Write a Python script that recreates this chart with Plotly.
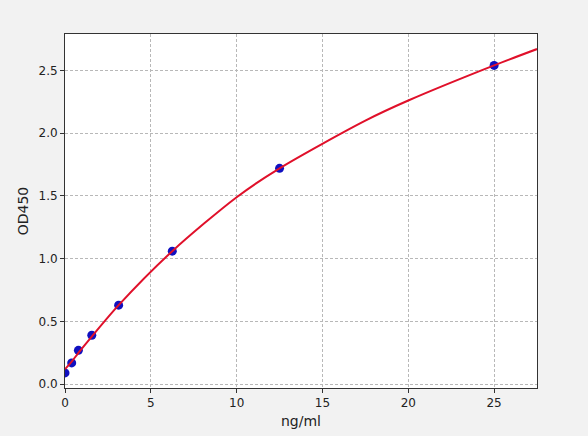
import plotly.graph_objects as go

# Standard points (concentration, OD450)
conc = [0, 0.39, 0.78, 1.56, 3.125, 6.25, 12.5, 25]
od450 = [0.09, 0.17, 0.27, 0.39, 0.63, 1.06, 1.72, 2.54]

# Fitted curve
curve_x = [0, 0.39, 0.78, 1.56, 3.125, 6.25, 10, 12.5, 17.5, 20, 25, 27.5]
curve_y = [0.12, 0.18, 0.25, 0.38, 0.63, 1.06, 1.49, 1.72, 2.10, 2.26, 2.54, 2.67]

x_ticks = [0, 5, 10, 15, 20, 25]
y_ticks = [0.0, 0.5, 1.0, 1.5, 2.0, 2.5]

fig = go.Figure()

fig.add_trace(go.Scatter(
    x=conc, y=od450, mode='markers',
    marker=dict(color='#1010c0', size=9),
    showlegend=False,
))

fig.add_trace(go.Scatter(
    x=curve_x, y=curve_y, mode='lines',
    line=dict(color='#e0102a', width=2, shape='spline', smoothing=0.8),
    showlegend=False,
))

axis_style = dict(
    showline=True, linecolor='#333333', linewidth=1, mirror=True,
    ticks='outside', ticklen=4, tickcolor='#333333',
    showgrid=True, gridcolor='#b8b8b8', griddash='3px,2px', gridwidth=1,
    zeroline=False, automargin=False,
    tickfont=dict(family='DejaVu Sans', size=12, color='#222222'),
)

fig.update_layout(
    width=588, height=436,
    margin=dict(l=65, r=51, t=34, b=48),
    paper_bgcolor='#f2f2f2',
    plot_bgcolor='white',
    font=dict(family='DejaVu Sans', size=12, color='#222222'),
    xaxis=dict(
        range=[0, 27.5], tickvals=x_ticks,
        title=dict(text='ng/ml', standoff=6),
        **axis_style,
    ),
    yaxis=dict(
        range=[-0.03, 2.79], tickvals=y_ticks, tickformat='.1f',
        title=dict(text='OD450', standoff=6),
        **axis_style,
    ),
)

# drop the page's default body margin so the figure sits at the window corner
fig.write_html("out.html", config={'displayModeBar': False},
               post_script="document.body.style.margin='0';")
